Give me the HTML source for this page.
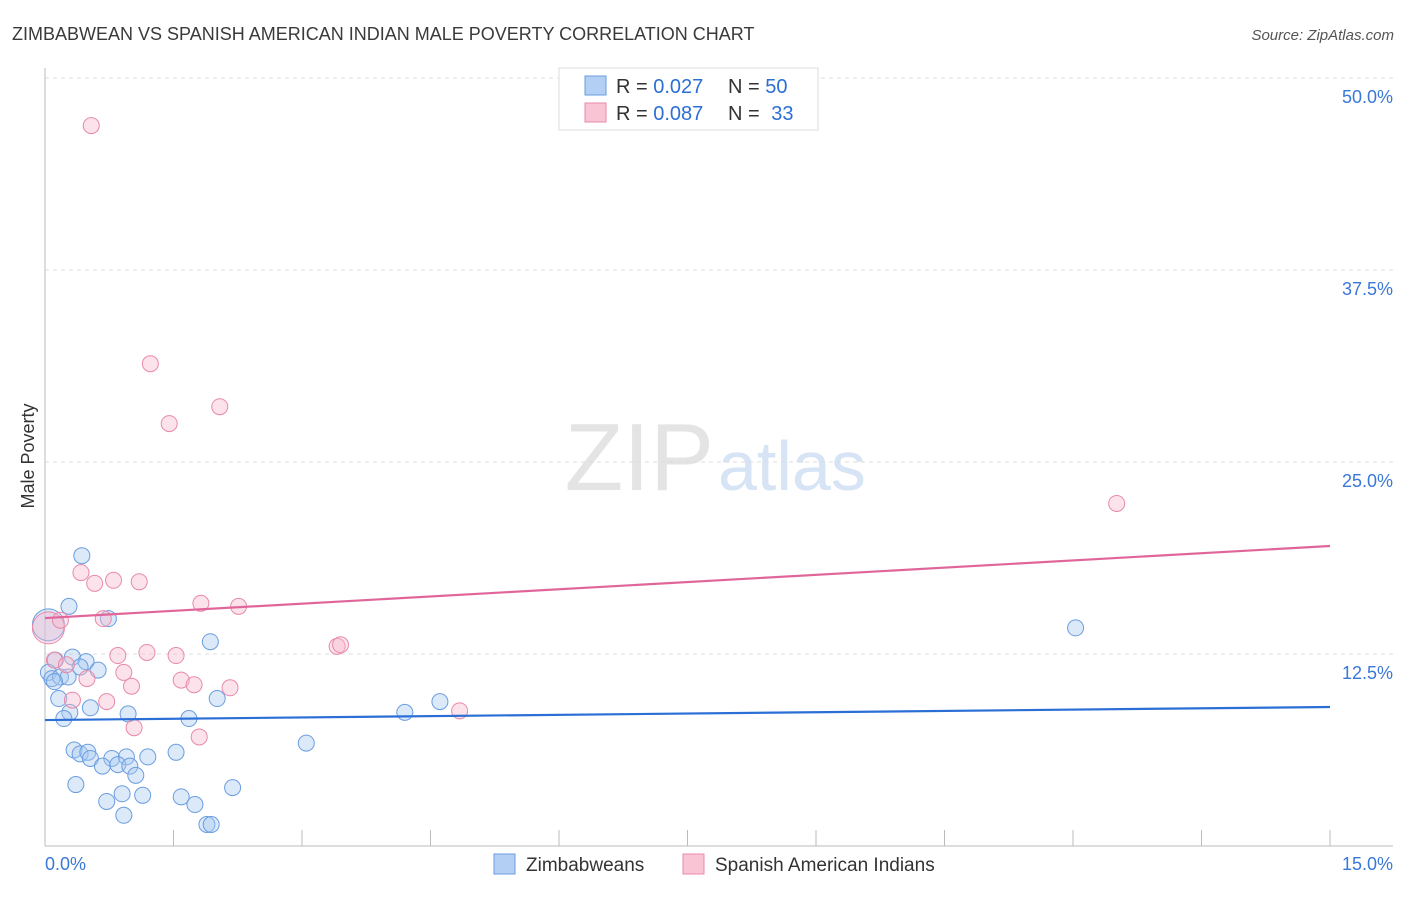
<!DOCTYPE html>
<html><head><meta charset="utf-8"><style>
body{margin:0;background:#fff;font-family:"Liberation Sans",sans-serif;}
svg text{font-family:"Liberation Sans",sans-serif;}
</style></head><body>
<svg id="c" width="1406" height="892">
<text x="12" y="40" font-size="18" fill="#3a3a3a">ZIMBABWEAN VS SPANISH AMERICAN INDIAN MALE POVERTY CORRELATION CHART</text>
<text x="1394" y="40" font-size="15" fill="#555" text-anchor="end" font-style="italic">Source: ZipAtlas.com</text>
<text x="34" y="456" font-size="18" fill="#333" text-anchor="middle" transform="rotate(-90 34 456)">Male Poverty</text>
<text x="714" y="490" font-size="96" fill="#e4e4e4" text-anchor="end" font-family="Liberation Serif">ZIP</text>
<text x="718" y="490" font-size="70" fill="#d6e4f5">atlas</text>
<g id="grid"></g><g id="marks"></g>
<g>
<rect x="559" y="68" width="259" height="62" fill="#fff" stroke="#ddd"/>
<rect x="585" y="76" width="21" height="19" fill="#b3cff3" stroke="#6a9de0"/>
<rect x="585" y="103" width="21" height="19" fill="#f9c5d5" stroke="#e88aa8"/>
<text x="616" y="93" font-size="20" fill="#333">R = <tspan fill="#2b6fd6">0.027</tspan></text>
<text x="728" y="93" font-size="20" fill="#333">N = <tspan fill="#2b6fd6">50</tspan></text>
<text x="616" y="120" font-size="20" fill="#333">R = <tspan fill="#2b6fd6">0.087</tspan></text>
<text x="728" y="120" font-size="20" fill="#333">N = <tspan fill="#2b6fd6" dx="6">33</tspan></text>
</g>
<g>
<rect x="494" y="854" width="21" height="20" fill="#b3cff3" stroke="#6a9de0"/>
<text x="526" y="871" font-size="19" fill="#333">Zimbabweans</text>
<rect x="683" y="854" width="21" height="20" fill="#f9c5d5" stroke="#e88aa8"/>
<text x="715" y="871" font-size="19" fill="#333">Spanish American Indians</text>
</g>
</svg>
<script>
const yTicks=[12.5,25,37.5,50];
const yTickLabels=["12.5%","25.0%","37.5%","50.0%"];
const xTicks=[0,1.5,3,4.5,6,7.5,9,10.5,12,13.5,15];
const blueX=[0.43,0.28,0.74,0.04,1.93,0.32,0.48,0.12,0.41,0.62,0.04,0.08,0.18,0.27,0.11,0.16,2.01,0.53,0.29,0.22,0.97,1.68,4.2,4.61,3.05,0.34,0.41,0.5,0.53,0.78,0.95,1.2,1.53,0.67,0.85,0.99,1.06,0.36,2.19,0.72,0.9,1.14,1.59,1.75,0.92,1.89,1.94,12.03];
const blueY=[18.9,15.6,14.8,14.4,13.3,12.3,12.0,12.1,11.65,11.45,11.3,10.9,11.0,11.0,10.7,9.6,9.6,9.0,8.7,8.3,8.6,8.3,8.7,9.4,6.7,6.25,6.0,6.1,5.7,5.7,5.8,5.8,6.1,5.2,5.3,5.2,4.6,4.0,3.8,2.9,3.4,3.3,3.2,2.7,2.0,1.4,1.4,14.2];
const pinkX=[0.54,1.23,1.45,2.04,12.51,0.42,0.58,0.8,1.1,1.82,2.26,0.68,0.04,0.18,3.41,3.45,0.85,1.19,1.53,0.11,0.25,0.92,0.49,1.59,1.74,1.01,2.16,0.32,0.72,4.84,1.04,1.8];
const pinkY=[46.9,31.4,27.5,28.6,22.3,17.8,17.1,17.3,17.2,15.8,15.6,14.8,14.2,14.7,13.0,13.1,12.4,12.6,12.4,12.1,11.8,11.3,10.9,10.8,10.5,10.4,10.3,9.5,9.4,8.8,7.7,7.1];
const blueTrend=[8.2,9.05];
const pinkTrend=[14.84,19.53];
const NS="http://www.w3.org/2000/svg";
const sx=v=>45+v*(1285/15), sy=v=>846-v*(768/50);
function mk(t,a,p){const e=document.createElementNS(NS,t);for(const k in a)e.setAttribute(k,a[k]);p.appendChild(e);return e;}
const g=document.getElementById('grid'),m=document.getElementById('marks');
yTicks.forEach((v,i)=>{
 const l=mk('line',{x1:45,x2:1393,y1:sy(v),y2:sy(v),stroke:'#ddd','stroke-dasharray':'4,4'},g);
 
 
 const t=mk('text',{x:1393,y:sy(v)+25,'font-size':18,fill:'#3a78d8','text-anchor':'end'},g);t.textContent=yTickLabels[i];
 
 
});
mk('line',{x1:45,x2:45,y1:68,y2:846,stroke:'#bbb'},g);
mk('line',{x1:45,x2:1393,y1:846,y2:846,stroke:'#bbb'},g);
xTicks.forEach(v=>{const l=mk('line',{x1:sx(v),x2:sx(v),y1:830,y2:846,stroke:'#bbb'},g);
 
 });
const t0=mk('text',{x:45,y:870,'font-size':18,fill:'#3a78d8'},g);t0.textContent='0.0%';


const t1=mk('text',{x:1393,y:870,'font-size':18,fill:'#3a78d8','text-anchor':'end'},g);t1.textContent='15.0%';


function pts(X,Y,fill,stroke,name){X.forEach((x,i)=>{const r=(x<0.06&&Y[i]>14&&Y[i]<14.5)?16:8;
 const c=mk('circle',{cx:sx(x),cy:sy(Y[i]),r:r,fill:fill,'fill-opacity':0.4,stroke:stroke,'stroke-width':1},m);
 
 });}
pts(blueX,blueY,'#a8c8f0','#6a9de0','zimbabwean-point');
pts(pinkX,pinkY,'#f7b8cc','#e88aa8','spanish-american-indian-point');
const bl=mk('line',{x1:sx(0),x2:sx(15),y1:sy(blueTrend[0]),y2:sy(blueTrend[1]),stroke:'#2b6fd6','stroke-width':2.2},m);


const pl=mk('line',{x1:sx(0),x2:sx(15),y1:sy(pinkTrend[0]),y2:sy(pinkTrend[1]),stroke:'#e0669a','stroke-width':2.2},m);


</script>
</body></html>
